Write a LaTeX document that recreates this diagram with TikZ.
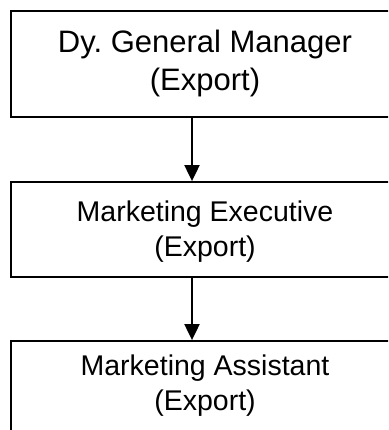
\documentclass[tikz,border=0pt]{standalone}
\usepackage{fontspec}
\setmainfont{Liberation Sans}
\usetikzlibrary{arrows.meta}

\begin{document}
\begin{tikzpicture}[x=1pt,y=-1pt,
		post/.style={draw,line width=1.8pt,minimum width=430pt,inner sep=0pt},
		title/.style={align=center,inner sep=0pt},
		link/.style={line width=2pt,-{Triangle[length=16pt,width=15pt]}}]
			\useasboundingbox (0,0) rectangle (388,430);
			\clip (0,0) rectangle (388,430);
			\node[post,minimum height=106pt] (dgm) at (226,64) {};
			\node[post,minimum height=95pt] (exe) at (226,229.5) {};
			\node[post,minimum height=95pt] (ast) at (226,388.5) {};
			\node[title,font=\fontsize{31}{38}\selectfont] (dgm-t) at (205,63) {Dy.\ General Manager\\(Export)};
			\node[title,font=\fontsize{28.5}{35}\selectfont] (exe-t) at (205,232) {Marketing Executive\\(Export)};
			\node[title,font=\fontsize{28.5}{35}\selectfont] (ast-t) at (205,386) {Marketing Assistant\\(Export)};
			\coordinate (axis) at (192,0);
			\draw[link] (dgm.south -| axis) -- (exe.north -| axis);
			\draw[link] (exe.south -| axis) -- (ast.north -| axis);
		\end{tikzpicture}
\end{document}
